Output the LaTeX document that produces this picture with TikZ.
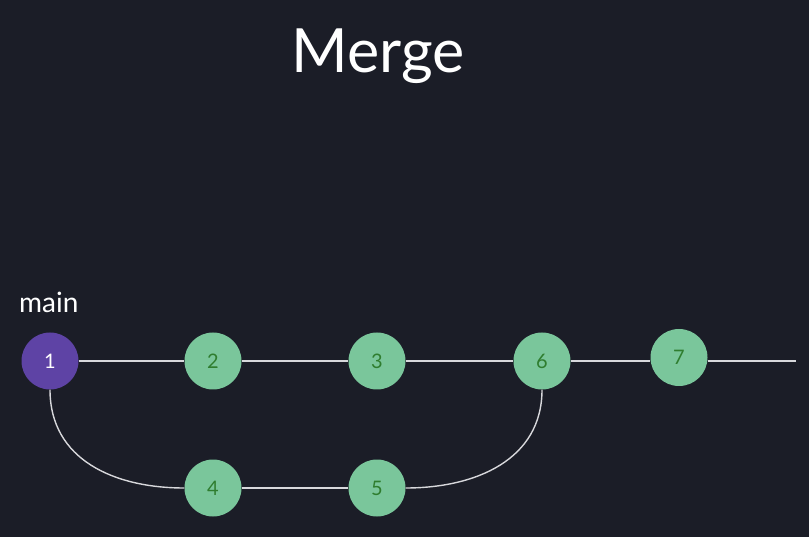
\documentclass[tikz,border=0pt]{standalone}
\usepackage{fontspec}
\setmainfont{Lato}
\usetikzlibrary{calc}
\definecolor{bg}{HTML}{1B1D27}
\definecolor{commitgreen}{HTML}{7AC69B}
\definecolor{digitgreen}{HTML}{2F7D2F}
\definecolor{mainpurple}{HTML}{5E43A5}
\definecolor{edgegray}{HTML}{D8D8DC}
\begin{document}
\begin{tikzpicture}[x=1pt,y=-1pt,
  commit/.style={circle,fill=commitgreen,minimum size=57pt,inner sep=0pt,text=digitgreen,font=\fontsize{20}{20}\selectfont},
  rootcommit/.style={commit,fill=mainpurple,text=white},
  edge/.style={draw=edgegray,line width=1.4pt}]
\fill[bg] (0,0) rectangle (809,537);
\useasboundingbox (0,0) rectangle (809,537);
\node[text=white,font=\fontsize{61}{61}\selectfont,anchor=base] (title) at (378,73) {Merge};
\node[text=white,font=\fontsize{28}{28}\selectfont,anchor=base west,inner sep=0pt] (mainlbl) at (19,312.5) {main};
\coordinate (tail) at (796,361);
\node[rootcommit] (c1) at (50,361) {1};
\node[commit] (c2) at (213,361) {2};
\node[commit] (c3) at (377,361) {3};
\node[commit] (c6) at (542,361) {6};
\node[commit] (c7) at (679,357.5) {7};
\node[commit] (c4) at (213,488) {4};
\node[commit] (c5) at (377,488) {5};
\draw[edge] (c1.east) -- (c2.west);
\draw[edge] (c2.east) -- (c3.west);
\draw[edge] (c3.east) -- (c6.west);
\draw[edge] (c6.east) -- (c6.east -| c7.west);
\draw[edge] (c7.east |- tail) -- (tail);
\draw[edge] (c4.east) -- (c5.west);
\draw[edge] (c1.south) .. controls ($(c1.south)+(0,70)$) and ($(c4.west)+(-70,0)$) .. (c4.west);
\draw[edge] (c5.east) .. controls ($(c5.east)+(70,0)$) and ($(c6.south)+(0,70)$) .. (c6.south);
\end{tikzpicture}
\end{document}
